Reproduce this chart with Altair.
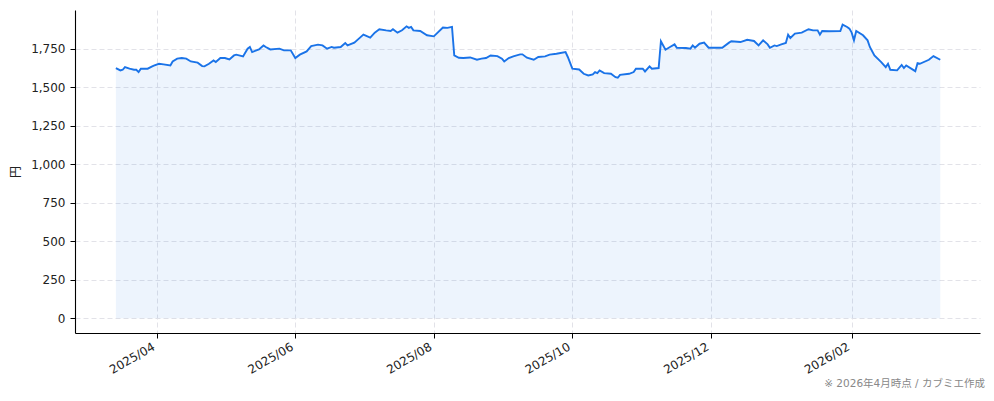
import altair as alt
import pandas as pd

dates = [
    "2025-03-14", "2025-03-16", "2025-03-17", "2025-03-18", "2025-03-20", "2025-03-22",
    "2025-03-23", "2025-03-24", "2025-03-25", "2025-03-28", "2025-03-30", "2025-03-31",
    "2025-04-02", "2025-04-04", "2025-04-07", "2025-04-08", "2025-04-10", "2025-04-12",
    "2025-04-14", "2025-04-16", "2025-04-19", "2025-04-21", "2025-04-22", "2025-04-24",
    "2025-04-26", "2025-04-27", "2025-04-29",
    "2025-05-01", "2025-05-03", "2025-05-05", "2025-05-06", "2025-05-09", "2025-05-11",
    "2025-05-12", "2025-05-13", "2025-05-16", "2025-05-18", "2025-05-19", "2025-05-21",
    "2025-05-25", "2025-05-27", "2025-05-30",
    "2025-06-01", "2025-06-03", "2025-06-06", "2025-06-08", "2025-06-11", "2025-06-13",
    "2025-06-15", "2025-06-17", "2025-06-18", "2025-06-21", "2025-06-23", "2025-06-24",
    "2025-06-27", "2025-06-29",
    "2025-07-01", "2025-07-04", "2025-07-06", "2025-07-08", "2025-07-11", "2025-07-13",
    "2025-07-14", "2025-07-16", "2025-07-18", "2025-07-20", "2025-07-21", "2025-07-22",
    "2025-07-23", "2025-07-26", "2025-07-29",
    "2025-08-01", "2025-08-05", "2025-08-07", "2025-08-09", "2025-08-10", "2025-08-12",
    "2025-08-14", "2025-08-17", "2025-08-20", "2025-08-22", "2025-08-24", "2025-08-26",
    "2025-08-29", "2025-08-31",
    "2025-09-01", "2025-09-03", "2025-09-05", "2025-09-08", "2025-09-09", "2025-09-11",
    "2025-09-14", "2025-09-16", "2025-09-19", "2025-09-21", "2025-09-24", "2025-09-28",
    "2025-09-29",
    "2025-10-01", "2025-10-04", "2025-10-06", "2025-10-08", "2025-10-10", "2025-10-11",
    "2025-10-12", "2025-10-13", "2025-10-15", "2025-10-18", "2025-10-20", "2025-10-21",
    "2025-10-22", "2025-10-26", "2025-10-28", "2025-10-29",
    "2025-11-01", "2025-11-02", "2025-11-04", "2025-11-05", "2025-11-08", "2025-11-09",
    "2025-11-11", "2025-11-13", "2025-11-15", "2025-11-16", "2025-11-20", "2025-11-22",
    "2025-11-23", "2025-11-24", "2025-11-26", "2025-11-28", "2025-11-30",
    "2025-12-06", "2025-12-09", "2025-12-10", "2025-12-14", "2025-12-17", "2025-12-20",
    "2025-12-22", "2025-12-24", "2025-12-26", "2025-12-27", "2025-12-29", "2025-12-30",
    "2026-01-01", "2026-01-03", "2026-01-04", "2026-01-05", "2026-01-07", "2026-01-10",
    "2026-01-13", "2026-01-15", "2026-01-17", "2026-01-18", "2026-01-19", "2026-01-22",
    "2026-01-27", "2026-01-28", "2026-01-30", "2026-01-31",
    "2026-02-01", "2026-02-02", "2026-02-03", "2026-02-06", "2026-02-08", "2026-02-09",
    "2026-02-11", "2026-02-14", "2026-02-16", "2026-02-17", "2026-02-18", "2026-02-21",
    "2026-02-23", "2026-02-24", "2026-02-25",
    "2026-03-01", "2026-03-02", "2026-03-03", "2026-03-07", "2026-03-09", "2026-03-12",
]

prices = [
    1624, 1609, 1613, 1630, 1620, 1613,
    1613, 1598, 1620, 1620, 1635, 1641,
    1652, 1648, 1641, 1667, 1685, 1689,
    1685, 1667, 1659, 1637, 1635, 1652,
    1674, 1663, 1689,
    1689, 1680, 1706, 1711, 1700, 1750,
    1761, 1728, 1745, 1771, 1761, 1745,
    1750, 1739, 1739,
    1689, 1711, 1732, 1767, 1776, 1771,
    1750, 1761, 1756, 1761, 1787, 1771,
    1789, 1815,
    1841, 1822, 1854, 1876, 1869, 1865,
    1876, 1854, 1869, 1895, 1885, 1891,
    1869, 1865, 1837,
    1830, 1887, 1885, 1891, 1706, 1691,
    1689, 1693, 1678, 1685, 1689, 1706,
    1702, 1685,
    1667, 1689, 1700, 1713, 1713, 1691,
    1678, 1696, 1700, 1711, 1717, 1728,
    1696,
    1620, 1615, 1587, 1576, 1583, 1598,
    1591, 1609, 1591, 1587, 1565, 1561,
    1580, 1587, 1598, 1620,
    1620, 1602, 1635, 1620, 1624, 1798,
    1743, 1761, 1778, 1756, 1754, 1750,
    1771, 1756, 1782, 1789, 1756,
    1756, 1789, 1798, 1793, 1808, 1800,
    1771, 1804, 1778, 1756, 1771, 1767,
    1778, 1787, 1841, 1819, 1848, 1854,
    1876, 1869, 1869, 1841, 1865, 1863,
    1865, 1906, 1891, 1880,
    1854, 1804, 1865, 1837, 1804, 1761,
    1706, 1663, 1630, 1652, 1613, 1609,
    1644, 1624, 1641,
    1604, 1656, 1652, 1678, 1702, 1678,
]

y_ticks = [0, 250, 500, 750, 1000, 1250, 1500, 1750]
x_ticks = [(2025, 4), (2025, 6), (2025, 8), (2025, 10), (2025, 12), (2026, 2)]

df = pd.DataFrame({"date": dates, "price": prices})

FONT = "DejaVu Sans, Noto Sans CJK JP"
LINE = "#1a73e8"

x_enc = alt.X(
    "date:T",
    scale=alt.Scale(
        type="utc",
        domain=[
            alt.DateTime(year=2025, month=2, date=24, utc=True),
            alt.DateTime(year=2026, month=3, date=29, hours=12, utc=True),
        ],
        nice=False,
    ),
    axis=alt.Axis(
        values=[alt.DateTime(year=y, month=m, date=1, utc=True) for y, m in x_ticks],
        labelExpr="utcFormat(datum.value, '%Y/%m')",
        labelAngle=-30,
        labelAlign="right",
        labelBaseline="top",
        labelPadding=3,
        labelOffset=-6,
        title=None,
    ),
)

y_enc = alt.Y(
    "price:Q",
    scale=alt.Scale(domain=[-96, 2001], nice=False, zero=False),
    axis=alt.Axis(
        values=y_ticks,
        labelExpr="format(datum.value, ',')",
        title="円",
        titleX=-60,
        titleY=161.5,
        titleAngle=-90,
        titleAlign="center",
        titleBaseline="middle",
        titleFontWeight="normal",
        titleFontSize=12,
        labelPadding=5,
    ),
)

area = alt.Chart(df).mark_area(color=LINE, opacity=0.08).encode(
    x=x_enc,
    y=y_enc,
    y2=alt.datum(0),
)

line = alt.Chart(df).mark_line(color=LINE, strokeWidth=1.9).encode(
    x=x_enc,
    y=y_enc,
)

chart = (
    alt.layer(area, line)
    .properties(
        width=905,
        height=323,
        padding={"left": 67, "top": 2, "right": 6, "bottom": 56},
        autosize=alt.AutoSizeParams(type="none"),
        title=alt.TitleParams(
            text="※ 2026年4月時点 / カブミエ作成",
            orient="bottom",
            anchor="end",
            fontSize=10.5,
            font=FONT,
            fontWeight="normal",
            color="#888888",
            offset=4,
            dx=5,
        ),
    )
    .configure_view(strokeWidth=0)
    .configure_axis(
        labelFont=FONT,
        titleFont=FONT,
        labelFontSize=12,
        labelColor="#222222",
        titleColor="#222222",
        domainColor="#000000",
        domainWidth=1.1,
        tickColor="#000000",
        tickSize=5,
        tickWidth=1,
        grid=True,
        gridColor="#e2e2e8",
        gridDash=[5, 3],
        gridWidth=1,
    )
)

chart.save("out.html", embed_options={"renderer": "svg", "actions": False})
